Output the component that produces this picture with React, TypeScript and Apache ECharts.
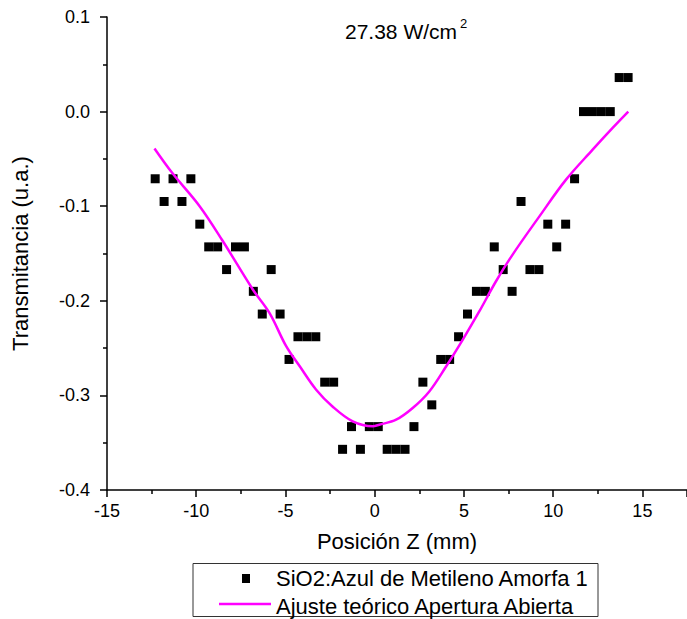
import React, { useEffect, useRef } from "react";
import * as echarts from "echarts";

const dataX = [
  -12.3, -11.8, -11.3, -10.8, -10.3, -9.8, -9.3, -8.8, -8.3, -7.8, -7.3, -6.8, -6.3, -5.8, -5.3,
  -4.8, -4.3, -3.8, -3.3, -2.8, -2.3, -1.8, -1.3, -0.8, -0.3, 0.2, 0.7, 1.2, 1.7, 2.2, 2.7, 3.2,
  3.7, 4.2, 4.7, 5.2, 5.7, 6.2, 6.7, 7.2, 7.7, 8.2, 8.7, 9.2, 9.7, 10.2, 10.7, 11.2, 11.7, 12.2,
  12.7, 13.2, 13.7, 14.2,
];
const dataY = [
  -0.071, -0.095, -0.071, -0.095, -0.071, -0.119, -0.143, -0.143, -0.167, -0.143, -0.143, -0.19,
  -0.214, -0.167, -0.214, -0.262, -0.238, -0.238, -0.238, -0.286, -0.286, -0.357, -0.333, -0.357,
  -0.333, -0.333, -0.357, -0.357, -0.357, -0.333, -0.286, -0.31, -0.262, -0.262, -0.238, -0.214,
  -0.19, -0.19, -0.143, -0.167, -0.19, -0.095, -0.167, -0.167, -0.119, -0.143, -0.119, -0.071,
  0.0, 0.0, 0.0, 0.0, 0.036, 0.036,
];

const fitX = [
  -12.34, -11.34, -9.81, -8.54, -6.83, -5.89, -4.96, -4.21, -3.28, -2.35, -1.23, -0.11, 0.26, 1.2,
  2.13, 3.06, 4.0, 4.92, 5.86, 6.79, 7.72, 9.22, 10.71, 12.2, 13.32, 14.21,
];
const fitY = [
  -0.039, -0.065, -0.1, -0.136, -0.188, -0.213, -0.248, -0.269, -0.294, -0.312, -0.3275, -0.3327,
  -0.331, -0.3257, -0.3133, -0.2958, -0.2694, -0.2415, -0.2113, -0.1796, -0.1514, -0.111, -0.0722,
  -0.0405, -0.0175, 0.0,
];

const seriesNames = ["SiO2:Azul de Metileno Amorfa 1", "Ajuste teórico Apertura Abierta"];
const titleMain = "27.38 W/cm";
const titleSup = "2";
const xName = "Posición Z (mm)";
const yName = "Transmitancia (u.a.)";

const FONT = "'Liberation Sans', Arial, sans-serif";

export default function App() {
  const ref = useRef<HTMLDivElement>(null);
  useEffect(() => {
    if (!ref.current) return;
    const chart = echarts.init(ref.current, undefined, { renderer: "svg" });
    const axisLine = { show: true, onZero: false, lineStyle: { color: "#000", width: 1.5 } };
    const tick = { show: true, inside: false, length: 7, lineStyle: { color: "#000", width: 1.5 } };
    const minor = { show: true, splitNumber: 2, length: 4, lineStyle: { color: "#000", width: 1.5 } };
    chart.setOption({
      animation: false,
      backgroundColor: "#fff",
      textStyle: { fontFamily: FONT },
      grid: { left: 107, right: 0, top: 17, bottom: 129, containLabel: false },
      xAxis: {
        type: "value",
        min: -15,
        max: 17.5,
        interval: 5,
        name: xName,
        nameLocation: "middle",
        nameGap: 40,
        nameTextStyle: { fontSize: 22, color: "#000", fontFamily: FONT },
        axisLine,
        axisTick: tick,
        minorTick: minor,
        splitLine: { show: false },
        axisLabel: { fontSize: 18, color: "#000", margin: 12, showMaxLabel: false, fontFamily: FONT },
      },
      yAxis: {
        type: "value",
        min: -0.4,
        max: 0.1,
        interval: 0.1,
        name: yName,
        nameLocation: "middle",
        nameGap: 76,
        nameTextStyle: { fontSize: 22, color: "#000", fontFamily: FONT },
        axisLine,
        axisTick: tick,
        minorTick: minor,
        splitLine: { show: false },
        axisLabel: {
          fontSize: 18,
          color: "#000",
          margin: 17,
          fontFamily: FONT,
          formatter: (v: number) => v.toFixed(1),
        },
      },
      series: [
        {
          name: seriesNames[0],
          type: "scatter",
          symbol: "rect",
          symbolSize: 9,
          itemStyle: { color: "#000", opacity: 1 },
          data: dataX.map((x, i) => [x, dataY[i]]),
          z: 3,
        },
        {
          name: seriesNames[1],
          type: "line",
          smooth: 0.35,
          symbol: "none",
          lineStyle: { color: "#ff00ff", width: 2.5 },
          data: fitX.map((x, i) => [x, fitY[i]]),
          z: 4,
        },
      ],
      graphic: [
        {
          type: "text",
          left: 345,
          top: 21,
          style: { text: titleMain, fill: "#000", font: `21px ${FONT}` },
        },
        {
          type: "text",
          left: 460,
          top: 17,
          style: { text: titleSup, fill: "#000", font: `13px ${FONT}` },
        },
        {
          type: "rect",
          shape: { x: 193, y: 563.5, width: 405, height: 53 },
          style: { fill: "#fff", stroke: "#333", lineWidth: 1 },
        },
        {
          type: "rect",
          shape: { x: 242, y: 574, width: 8, height: 9 },
          style: { fill: "#000" },
        },
        {
          type: "line",
          shape: { x1: 219, y1: 604, x2: 271, y2: 604 },
          style: { stroke: "#ff00ff", lineWidth: 2.5 },
        },
        {
          type: "text",
          x: 276,
          y: 578,
          style: {
            text: seriesNames[0],
            font: `22px ${FONT}`,
            fill: "#000",
            verticalAlign: "middle",
            align: "left",
          },
        },
        {
          type: "text",
          x: 276,
          y: 606,
          style: {
            text: seriesNames[1],
            font: `22px ${FONT}`,
            fill: "#000",
            verticalAlign: "middle",
            align: "left",
          },
        },
      ],
    });
    return () => chart.dispose();
  }, []);
  return (
    <div
      ref={ref}
      style={{ position: "fixed", left: 0, top: 0, width: 687, height: 619 }}
    />
  );
}
